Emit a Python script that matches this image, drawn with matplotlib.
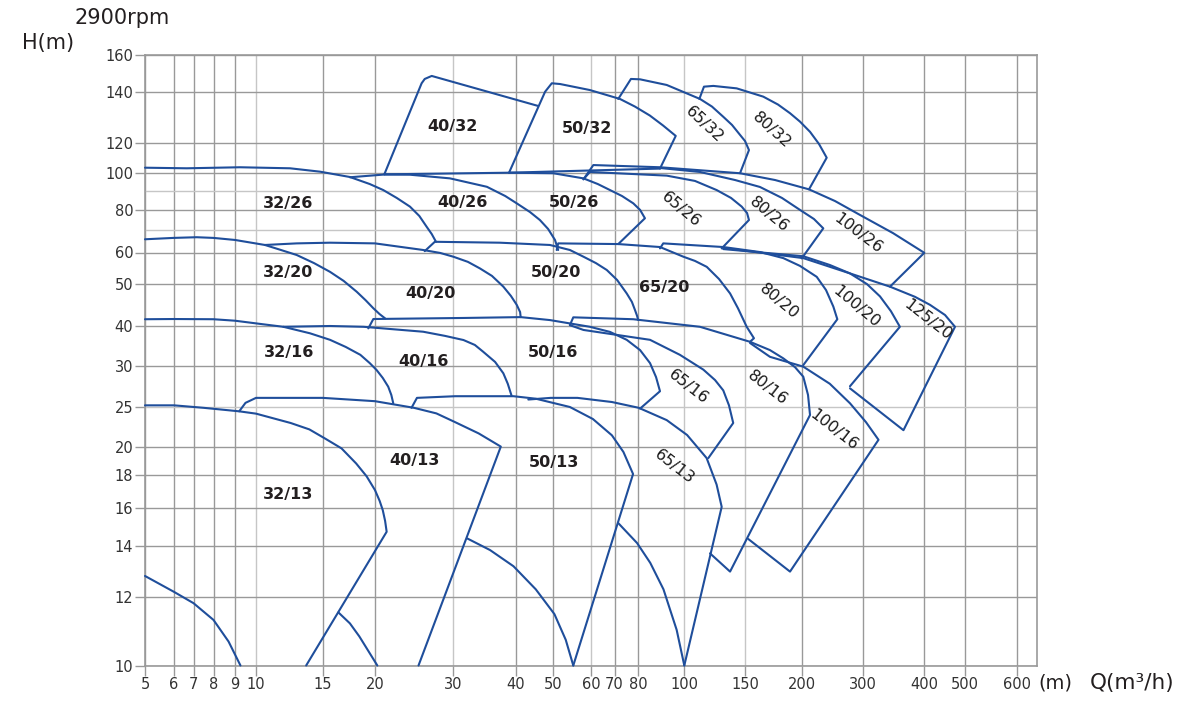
import numpy as np
import matplotlib
matplotlib.use("Agg")
import matplotlib.pyplot as plt

# ---------------- axis calibration of the printed (irregular log) grid ----------------
x_grid_vals = [5, 6, 7, 8, 9, 10, 15, 20, 30, 40, 50, 60, 70, 80, 100, 150, 200, 300, 400, 500, 600, 640]
x_grid_pos = [145, 174, 193.5, 213.5, 235, 256, 322.7, 375, 452.7, 516, 553.3, 591, 614.5, 638, 684.3,
              745, 801.7, 862.5, 924.3, 965, 1016.5, 1037]
y_grid_vals = [10, 12, 14, 16, 18, 20, 25, 30, 40, 50, 60, 70, 80, 90, 100, 120, 140, 160]
y_grid_pos = [35.5, 104, 155.3, 193.5, 226.3, 254, 294, 335.5, 375, 417.3, 448.5, 471.3, 490.7, 510,
              528.3, 557.7, 608.7, 646.3]

x_tick_labels = [5, 6, 7, 8, 9, 10, 15, 20, 30, 40, 50, 60, 70, 80, 100, 150, 200, 300, 400, 500, 600]
y_tick_labels = [10, 12, 14, 16, 18, 20, 25, 30, 40, 50, 60, 80, 100, 120, 140, 160]
x_light = [10, 30, 60, 100, 150]
y_light = [25, 70, 90]

# ---------------- curves (Q m3/h, H m) ----------------
c40_32 = [(21.2, 99.1), (26.0, 144.8), (26.4, 147.1), (27.3, 148.7), (27.9, 148.0), (45.8, 134.7)]
c50_32 = [(38.9, 100.0), (47.8, 140.3), (49.6, 144.8), (51.8, 144.4), (59.7, 141.2), (72.3, 137.4),
          (78.7, 134.4), (85.1, 130.9), (90.8, 127.0), (96.3, 122.9), (89.5, 102.8)]
c65_32 = [(71.6, 137.4), (77.0, 147.1), (80.9, 146.9), (92.4, 143.9), (112.9, 137.4), (122.8, 134.4),
          (132.1, 130.4), (139.3, 127.2), (145.9, 123.3), (150, 120.9), (153.5, 115.4), (145.9, 99.7)]
c80_32 = [(112.4, 137.4), (116.2, 143.0), (123.9, 143.4), (143.1, 142.1), (166.1, 138.3), (179.1, 135.2),
          (189.7, 131.8), (198.5, 128.5), (213.7, 124.5), (228.5, 119.5), (241.1, 110.2), (212.0, 90.9)]
b32 = [(21.2, 99.1), (38.9, 100.0), (89.5, 102.8)]

c32_26 = [(5, 103.4), (6.65, 103.0), (9.24, 103.7), (12.55, 103.0), (14.8, 100.7), (17.6, 97.65),
          (19.5, 93.8), (21.07, 90.5), (22.8, 86.4), (24.5, 81.9), (25.7, 77.1), (26.65, 71.5),
          (27.3, 68.1), (27.85, 64.7)]
c40_26 = [(17.6, 97.5), (21.2, 99.0), (24.5, 98.9), (29.65, 96.9), (35.4, 92.3), (38.3, 87.4), (40.2, 83.6),
          (43.75, 79.1), (46.4, 75.0), (48.6, 70.4), (50.45, 65.5), (51.3, 61.1)]
c50_26 = [(38.9, 100.0), (50, 99.7), (58, 96.9), (62.9, 93.8), (68.1, 90.5), (73.2, 87.4), (78, 83.6),
          (80.9, 80.2), (83, 75.9), (71.6, 63.7)]
c65_26 = [(58, 96.4), (59.7, 100.5), (92.4, 98.4), (108.8, 95.5), (126.7, 90.5), (138.5, 86.4),
          (147.3, 81.9), (151.8, 78.6), (153.5, 75.0), (130.8, 61.8)]
c80_26 = [(89.5, 103.2), (112.9, 100.5), (141.8, 96.0), (163.2, 92.2), (182.6, 86.4), (198.5, 80.2),
          (220.2, 75.5), (235.5, 70.7), (200, 58.1)]
c100_26 = [(58, 96.4), (61, 105.2), (89.5, 103.7), (145.9, 99.7), (176.5, 96.0), (212, 90.9), (254.8, 84.8),
           (295.9, 77.6), (349.4, 68.5), (400, 59.9), (344.5, 49.3)]

c32_20 = [(5, 65.8), (5.98, 66.4), (7.16, 66.7), (8.0, 66.4), (9.0, 65.5), (10.67, 63.3), (11.87, 61.1),
          (13.05, 59.2), (14.35, 56.6), (15.7, 53.8), (17.0, 50.9), (18.25, 48.1), (19.1, 46.1),
          (19.84, 44.2), (20.6, 42.8), (21.3, 41.8)]
c40_20 = [(10.67, 63.3), (13.05, 64.0), (15.7, 64.3), (20, 64.0), (26.2, 61.1), (28.4, 59.85), (30.1, 58.65),
          (32.4, 57.0), (34.3, 54.9), (36.2, 52.5), (38.0, 49.3), (39.2, 47.1), (40.2, 45.0), (41.1, 43.3),
          (41.25, 42.1)]
c50_20 = [(26.4, 60.6), (27.7, 64.7), (37.45, 64.3), (49.1, 63.3), (54.4, 61.1), (58, 58.65), (62.1, 56.6),
          (66.7, 54.4), (71.1, 51.2), (75.2, 47.7), (77.4, 45.7), (78.7, 43.8), (79.6, 42.4), (80.1, 41.4)]
c65_20 = [(50.9, 61.1), (51.3, 64.0), (71.6, 63.7), (89.5, 62.4), (99.6, 58.65), (108.8, 57.3),
          (118.5, 55.4), (128.6, 51.5), (137.7, 47.7), (144.2, 44.2), (151.5, 39.8), (157.9, 36.9),
          (154.4, 36.0)]
c80_20 = [(89.5, 61.8), (90.9, 64.0), (132.1, 62.4), (163.2, 60.2), (183.8, 58.2), (198.5, 55.7),
          (224.7, 52.2), (240, 48.5), (252, 44.6), (258.6, 41.6), (202.6, 30.1)]
c100_20 = [(132.1, 61.5), (202.6, 58.8), (246.2, 56.0), (279.4, 53.3), (307.3, 49.9), (328.3, 47.0),
           (346, 43.5), (360.5, 39.8), (279.4, 27.5)]
c125_20 = [(132.1, 62.0), (202.6, 58.2), (279.4, 53.3), (344.5, 49.3), (384.9, 46.9), (414, 45.0),
           (450.9, 42.6), (475.4, 39.8), (366.3, 22.1), (279.4, 27.25)]

c32_16 = [(5, 41.6), (5.98, 41.65), (8, 41.6), (9, 41.25), (10.55, 40.4), (12.05, 39.8), (14.05, 38.15),
          (15.7, 36.5), (17.2, 34.7), (18.6, 32.7), (19.5, 30.6), (20.2, 29.46), (21.0, 28.5), (21.7, 27.45),
          (22.1, 26.45), (22.35, 25.45)]
c40_16 = [(12.05, 39.8), (15.7, 40.0), (18.9, 39.8), (26.2, 38.55), (29.0, 37.5), (31.7, 36.45), (33.5, 35.2),
          (34.8, 33.5), (36.7, 30.9), (38.0, 29.06), (38.7, 27.8), (39.3, 26.36)]
c50_16 = [(19.36, 39.4), (19.84, 41.65), (31.7, 41.9), (41.25, 42.1), (49.1, 41.4), (59.7, 39.8),
          (68.1, 38.5), (75.2, 36.5), (80.9, 33.9), (85.2, 30.6), (87.8, 28.6), (89.5, 26.9), (80.9, 24.8)]
c65_16 = [(54.4, 40.2), (58, 39.0), (85.2, 36.5), (98.1, 32.7), (115.7, 29.5), (125.3, 28.25), (132.1, 27.0),
          (136.8, 25.2), (140.3, 23.0), (119.8, 19.2)]
c80_16 = [(54.4, 40.2), (55.3, 42.05), (78.0, 41.6), (112.9, 39.8), (154.4, 36.0), (172, 33.9), (183.8, 31.8),
          (194.1, 29.8), (202.6, 28.65), (210.4, 26.45), (213.7, 24.0), (137.7, 12.99), (121.2, 13.7)]
c100_16 = [(154.4, 35.7), (172, 32.2), (202.6, 29.86), (246.2, 27.8), (279.4, 25.45), (305.7, 23.1),
           (325.9, 20.9), (189.7, 12.99), (152.9, 14.35)]

c32_13 = [(5, 25.2), (6, 25.2), (7.5, 24.9), (9.2, 24.46), (10, 24.17), (12.6, 23.0), (14.0, 22.2),
          (15.25, 21.04), (16.8, 19.9), (18.2, 18.81), (19.2, 17.9), (20, 17.06), (20.6, 16.4), (21, 15.86),
          (21.3, 15.3), (21.5, 14.73), (13.76, 10)]
s40_13 = [(16.5, 11.55), (17.6, 11.23), (18.5, 10.85), (20.3, 10)]
s32_13 = [(5, 12.82), (6, 12.2), (7, 11.82), (8, 11.33), (8.7, 10.7), (9.26, 10)]
c40_13 = [(9.2, 24.46), (9.5, 25.5), (10, 26.1), (12.6, 26.1), (15, 26.1), (20, 25.7), (25, 24.9),
          (27.9, 24.2), (30.4, 23.1), (34.1, 21.7), (37.6, 20.05), (25.6, 10)]
s50_13 = [(32.3, 14.38), (35.9, 13.83), (39.6, 13.2), (45.3, 12.3), (50.3, 11.5), (53.3, 10.75), (55.3, 10)]
c50_13 = [(24.7, 24.9), (25.4, 26.1), (30.4, 26.3), (39.6, 26.3), (45.3, 26.0), (54.4, 25.0), (60.8, 23.5),
          (68.9, 21.46), (73.8, 19.64), (77.9, 18.05), (55.3, 10)]
c65_13 = [(43.3, 25.9), (49.3, 26.1), (56.4, 26.1), (68.9, 25.6), (80.3, 24.9), (92.4, 23.36), (102.3, 21.5),
          (118.4, 19.2), (126.6, 17.4), (130.8, 16.04), (100, 10)]
s65_13 = [(71.7, 15.17), (79.6, 14.14), (85.3, 13.33), (91, 12.3), (96.7, 11.04), (100, 10)]

curves = [c40_32, c50_32, c65_32, c80_32, b32,
          c32_26, c40_26, c50_26, c65_26, c80_26, c100_26,
          c32_20, c40_20, c50_20, c65_20, c80_20, c100_20, c125_20,
          c32_16, c40_16, c50_16, c65_16, c80_16, c100_16,
          c32_13, s40_13, s32_13, c40_13, s50_13, c50_13, c65_13, s65_13]

# labels (text, Q, H)
labels_flat = [("40/32", 30, 126.4), ("50/32", 58.9, 126.0), ("32/26", 12.4, 83.3), ("40/26", 31.6, 84.3),
               ("50/26", 55.5, 84.3), ("32/20", 12.4, 53.7), ("40/20", 27.1, 47.8), ("50/20", 50.7, 53.7),
               ("65/20", 91.2, 49.2), ("32/16", 12.5, 33.2), ("40/16", 26.3, 31.1), ("50/16", 50, 33.4),
               ("32/13", 12.4, 16.8), ("40/13", 25.1, 19.0), ("50/13", 50.2, 18.9)]
# (text, Q, H, slant in degrees)
labels_rot = [("65/32", 116.4, 127.5, 43), ("80/32", 173.8, 125.2, 42), ("65/26", 98.6, 80.2, 40),
              ("80/26", 171.1, 77.6, 40), ("100/26", 292.4, 68.3, 37), ("80/20", 180, 45.7, 40),
              ("100/20", 289, 44.5, 40), ("125/20", 409, 41.4, 38), ("65/16", 103, 27.4, 38),
              ("80/16", 169.4, 27.3, 38), ("100/16", 253, 22.1, 38), ("65/13", 95.8, 18.6, 38)]


def make_scale(vals, pos):
    vals = np.asarray(vals, float)
    pos = np.asarray(pos, float)

    def _map(v, a, b):
        v = np.asarray(v, float)
        out = np.interp(v, a, b)
        lo_s = (b[1] - b[0]) / (a[1] - a[0])
        hi_s = (b[-1] - b[-2]) / (a[-1] - a[-2])
        out = np.where(v < a[0], b[0] + (v - a[0]) * lo_s, out)
        out = np.where(v > a[-1], b[-1] + (v - a[-1]) * hi_s, out)
        return out

    return (lambda v: _map(v, vals, pos)), (lambda p: _map(p, pos, vals))


plt.rcParams['font.family'] = ['DejaVu Sans']
W, H = 1182, 701
fig = plt.figure(figsize=(W / 100, H / 100), dpi=100)
ax = fig.add_axes([145 / W, (H - 665.5) / H, (1037 - 145) / W, (665.5 - 54.7) / H])
ax.set_xscale('function', functions=make_scale(x_grid_vals, x_grid_pos))
ax.set_yscale('function', functions=make_scale(y_grid_vals, y_grid_pos))
ax.set_xlim(5, 640)
ax.set_ylim(10, 160)

dark, light = '#999999', '#c6c6c6'
for v in x_tick_labels:
    ax.axvline(v, color=light if v in x_light else dark, lw=1.0, zorder=0)
for v in y_grid_vals:
    ax.axhline(v, color=light if v in y_light else dark, lw=1.0, zorder=0)

ax.set_xticks(x_tick_labels)
ax.set_xticklabels([str(v) for v in x_tick_labels])
ax.set_yticks(y_tick_labels)
ax.set_yticklabels([str(v) for v in y_tick_labels])
ax.minorticks_off()
ax.tick_params(axis='both', direction='out', length=7.5, width=1.0, color=dark,
               labelsize=10.5, labelcolor='#333333', pad=1)
for s in ax.spines.values():
    s.set_color(dark)
    s.set_linewidth(1.2)

blue = '#1f4e9b'
for c in curves:
    q, h = zip(*c)
    ax.plot(q, h, color=blue, lw=1.5, solid_joinstyle='round', solid_capstyle='round', zorder=3, clip_on=False)

for t, q, h in labels_flat:
    ax.text(q, h, t, ha='center', va='center', fontsize=11.5, fontweight='bold', color='#231f20', zorder=4)
for t, q, h, a in labels_rot:
    ax.text(q, h, t, ha='center', va='center', fontsize=11.5, rotation=-a, rotation_mode='anchor',
            color='#1a1a1a', zorder=4)

fig.text(75 / W, 1 - 18 / H, "2900rpm", fontsize=15, color='#231f20', ha='left', va='center')
fig.text(22 / W, 1 - 43 / H, "H(m)", fontsize=15, color='#231f20', ha='left', va='center')
fig.text(1038 / W, 1 - 683 / H, "(m)", fontsize=14, color='#231f20', ha='left', va='center')
fig.text(1090 / W, 1 - 683 / H, "Q(m³/h)", fontsize=15.5, color='#231f20', ha='left', va='center')

fig.savefig("out.png", dpi=100, facecolor='white')
